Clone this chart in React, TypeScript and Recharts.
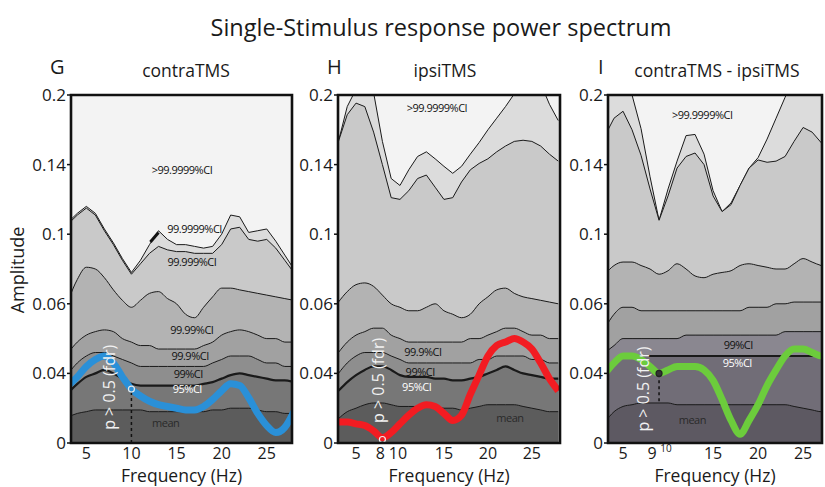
import React from 'react';
import { ComposedChart, Area, Line, XAxis, YAxis, ReferenceArea, ReferenceLine, ReferenceDot, Label } from 'recharts';

// ---------------- data ----------------
const FREQ = [3, 4, 5, 6, 7, 8, 9, 10, 11, 12, 13, 14, 15, 16, 17, 18, 19, 20, 21, 22, 23, 24, 25, 26, 27, 28];
const Y_TICK_VALUES = [0, 0.04, 0.06, 0.1, 0.14, 0.2];
const Y_TICK_LABELS = ['0', '0.04', '0.06', '0.1', '0.14', '0.2'];
const G_X_TICKS = [5, 10, 15, 20, 25];
const H_X_TICKS = [5, 8, 10, 15, 20, 25];
const I_X_TICKS = [5, 9, 10, 15, 20, 25];
const CI_LABELS = ['>99.9999%CI', '99.9999%CI', '99.999%CI', '99.99%CI', '99.9%CI', '99%CI', '95%CI', 'mean'];
const P_TEXT = 'p > 0.5 (fdr)';

// Panel G (contraTMS)
const G_CI999999 = [0.107, 0.112, 0.116, 0.112, 0.103, 0.095, 0.086, 0.078, 0.085, 0.094, 0.102, 0.097, 0.094, 0.094, 0.093, 0.092, 0.093, 0.100, 0.111, 0.110, 0.101, 0.102, 0.103, 0.096, 0.088, 0.080];
const G_CI99999 = [0.106, 0.111, 0.115, 0.111, 0.102, 0.094, 0.085, 0.077, 0.083, 0.089, 0.093, 0.091, 0.090, 0.090, 0.089, 0.089, 0.089, 0.094, 0.103, 0.104, 0.097, 0.096, 0.097, 0.092, 0.085, 0.078];
const G_CI9999 = [0.062, 0.074, 0.081, 0.080, 0.075, 0.068, 0.062, 0.059, 0.062, 0.066, 0.067, 0.063, 0.060, 0.057, 0.056, 0.059, 0.064, 0.069, 0.069, 0.068, 0.067, 0.066, 0.065, 0.064, 0.063, 0.062];
const G_CI999 = [0.046, 0.049, 0.051, 0.052, 0.0525, 0.052, 0.050, 0.049, 0.048, 0.048, 0.047, 0.047, 0.047, 0.047, 0.047, 0.048, 0.049, 0.051, 0.052, 0.0525, 0.052, 0.051, 0.050, 0.050, 0.049, 0.049];
const G_CI99 = [0.040, 0.043, 0.045, 0.046, 0.046, 0.045, 0.044, 0.043, 0.042, 0.042, 0.042, 0.042, 0.042, 0.042, 0.042, 0.042, 0.043, 0.044, 0.045, 0.045, 0.045, 0.044, 0.043, 0.043, 0.042, 0.042];
const G_CI95 = [0.029, 0.034, 0.038, 0.040, 0.041, 0.040, 0.037, 0.034, 0.033, 0.033, 0.033, 0.033, 0.033, 0.033, 0.033, 0.034, 0.035, 0.037, 0.039, 0.040, 0.039, 0.038, 0.037, 0.036, 0.036, 0.035];
const G_MEAN = [0.015, 0.017, 0.018, 0.019, 0.019, 0.019, 0.019, 0.019, 0.019, 0.018, 0.018, 0.018, 0.018, 0.018, 0.018, 0.018, 0.019, 0.019, 0.020, 0.020, 0.020, 0.019, 0.018, 0.018, 0.017, 0.017];
const G_SIGNAL = [0.033, 0.038, 0.042, 0.044, 0.045, 0.043, 0.038, 0.031, 0.027, 0.024, 0.022, 0.021, 0.020, 0.019, 0.019, 0.021, 0.025, 0.030, 0.034, 0.033, 0.026, 0.017, 0.010, 0.006, 0.009, 0.018];
const G_MARK = { f: 10, amp: 0.031 };

// Panel H (ipsiTMS)
const H_CI999999 = [0.160, 0.190, 0.205, 0.210, 0.202, 0.160, 0.132, 0.128, 0.137, 0.147, 0.151, 0.145, 0.139, 0.135, 0.139, 0.149, 0.159, 0.170, 0.180, 0.190, 0.201, 0.210, 0.215, 0.210, 0.192, 0.178];
const H_CI99999 = [0.160, 0.183, 0.193, 0.190, 0.168, 0.140, 0.121, 0.120, 0.125, 0.132, 0.134, 0.127, 0.120, 0.121, 0.130, 0.137, 0.141, 0.145, 0.151, 0.156, 0.160, 0.161, 0.160, 0.156, 0.149, 0.143];
const H_CI9999 = [0.061, 0.067, 0.071, 0.072, 0.070, 0.065, 0.060, 0.059, 0.058, 0.058, 0.059, 0.060, 0.058, 0.057, 0.056, 0.057, 0.060, 0.064, 0.068, 0.069, 0.066, 0.064, 0.063, 0.062, 0.061, 0.060];
const H_CI999 = [0.046, 0.049, 0.051, 0.052, 0.053, 0.053, 0.051, 0.050, 0.049, 0.049, 0.049, 0.049, 0.049, 0.049, 0.049, 0.050, 0.050, 0.051, 0.052, 0.053, 0.053, 0.052, 0.051, 0.051, 0.050, 0.050];
const H_CI99 = [0.040, 0.043, 0.045, 0.046, 0.046, 0.046, 0.045, 0.044, 0.043, 0.043, 0.043, 0.043, 0.043, 0.043, 0.043, 0.043, 0.044, 0.044, 0.045, 0.045, 0.045, 0.045, 0.044, 0.044, 0.043, 0.043];
const H_CI95 = [0.030, 0.035, 0.039, 0.041, 0.042, 0.042, 0.041, 0.039, 0.038, 0.038, 0.038, 0.037, 0.037, 0.036, 0.036, 0.037, 0.038, 0.040, 0.041, 0.042, 0.041, 0.040, 0.039, 0.038, 0.037, 0.037];
const H_MEAN = [0.014, 0.018, 0.020, 0.022, 0.023, 0.023, 0.022, 0.021, 0.021, 0.021, 0.021, 0.021, 0.020, 0.020, 0.019, 0.020, 0.021, 0.022, 0.022, 0.022, 0.022, 0.021, 0.020, 0.019, 0.018, 0.018];
const H_SIGNAL = [0.012, 0.012, 0.011, 0.010, 0.007, 0.003, 0.006, 0.011, 0.016, 0.020, 0.022, 0.021, 0.017, 0.013, 0.016, 0.028, 0.039, 0.045, 0.048, 0.049, 0.050, 0.049, 0.047, 0.043, 0.037, 0.030];
const H_MARK = { f: 8, amp: 0.002 };

// Panel I (contraTMS - ipsiTMS)
const I_CI999999 = [0.210, 0.220, 0.220, 0.200, 0.171, 0.133, 0.108, 0.126, 0.143, 0.165, 0.166, 0.149, 0.125, 0.113, 0.118, 0.128, 0.138, 0.146, 0.162, 0.180, 0.198, 0.215, 0.225, 0.215, 0.200, 0.185];
const I_CI99999 = [0.165, 0.180, 0.186, 0.170, 0.148, 0.126, 0.108, 0.122, 0.138, 0.147, 0.150, 0.140, 0.122, 0.113, 0.117, 0.128, 0.138, 0.144, 0.142, 0.143, 0.147, 0.160, 0.172, 0.168, 0.159, 0.150];
const I_CI9999 = [0.077, 0.082, 0.084, 0.084, 0.082, 0.080, 0.077, 0.079, 0.083, 0.080, 0.076, 0.075, 0.077, 0.078, 0.079, 0.082, 0.083, 0.082, 0.081, 0.080, 0.080, 0.083, 0.086, 0.084, 0.082, 0.081];
const I_CI999 = [0.053, 0.057, 0.059, 0.059, 0.058, 0.058, 0.058, 0.058, 0.058, 0.058, 0.058, 0.058, 0.058, 0.058, 0.058, 0.058, 0.059, 0.059, 0.059, 0.060, 0.060, 0.061, 0.061, 0.061, 0.061, 0.061];
const I_CI99 = [0.046, 0.048, 0.050, 0.050, 0.050, 0.050, 0.050, 0.050, 0.050, 0.051, 0.051, 0.051, 0.051, 0.051, 0.051, 0.051, 0.051, 0.051, 0.051, 0.051, 0.052, 0.052, 0.052, 0.052, 0.052, 0.052];
const I_CI95 = [0.040, 0.043, 0.045, 0.045, 0.045, 0.045, 0.045, 0.045, 0.045, 0.045, 0.045, 0.045, 0.045, 0.045, 0.045, 0.045, 0.045, 0.045, 0.045, 0.045, 0.045, 0.045, 0.045, 0.045, 0.045, 0.045];
const I_MEAN = [0.012, 0.018, 0.021, 0.022, 0.023, 0.023, 0.023, 0.023, 0.022, 0.022, 0.022, 0.022, 0.022, 0.022, 0.022, 0.022, 0.022, 0.022, 0.022, 0.022, 0.022, 0.021, 0.020, 0.019, 0.018, 0.018];
const I_SIGNAL = [0.040, 0.043, 0.045, 0.045, 0.044, 0.042, 0.040, 0.041, 0.042, 0.042, 0.042, 0.041, 0.036, 0.025, 0.013, 0.005, 0.013, 0.022, 0.033, 0.041, 0.045, 0.047, 0.047, 0.046, 0.045, 0.045];
const I_MARK = { f: 9, amp: 0.040 };

// ---------------- helpers ----------------
// piecewise-linear mapping of amplitude onto the evenly spaced tick positions of the axis
const toIdx = (v: number) => {
  const T = Y_TICK_VALUES;
  let i = 0;
  while (i < T.length - 2 && v > T[i + 1]) i++;
  return i + (v - T[i]) / (T[i + 1] - T[i]);
};
const Y_IDX = Y_TICK_VALUES.map((_, i) => i);

const BANDS = [
  { key: 'c6', fill: '#dcdcdc', sw: 1, type: 'linear' },
  { key: 'c5', fill: '#c9c9c9', sw: 1, type: 'linear' },
  { key: 'c4', fill: '#b3b3b3', sw: 1, type: 'monotone' },
  { key: 'c3', fill: '#a1a1a1', sw: 1, type: 'monotone' },
  { key: 'c2', fill: '#8e8e8e', sw: 1, type: 'monotone' },
  { key: 'c1', fill: '#777777', sw: 2.2, type: 'monotone' },
  { key: 'c0', fill: '#5c5c5c', sw: 1, type: 'monotone' },
];

const TEXT = '#1a1a1a';
const FONT = '"Open Sans", "Noto Sans", sans-serif';

const makeTick = (adj: any) => (props: any) => {
  const { x, y, payload } = props;
  const a = adj[payload.value] || {};
  return (
    <text x={x + (a.dx || 0)} y={y + (a.dy || 0)} dy="0.71em" textAnchor="middle" fontSize={a.size || 16} fill={TEXT} fontFamily={FONT}>
      {payload.value}
    </text>
  );
};

function Panel({ cfg }: { cfg: any }) {
  const s = cfg.series;
  const rows = FREQ.map((f, k) => ({
    f,
    c6: toIdx(s.c6[k]), c5: toIdx(s.c5[k]), c4: toIdx(s.c4[k]), c3: toIdx(s.c3[k]),
    c2: toIdx(s.c2[k]), c1: toIdx(s.c1[k]), c0: toIdx(s.c0[k]), sig: toIdx(s.sig[k]),
  }));
  const [d0, d1] = cfg.domain;
  const tickLine = { stroke: '#111', strokeWidth: 1.5 };
  return (
    <div style={{ position: 'absolute', left: cfg.plotLeft - 52, top: 60 }}>
      <ComposedChart width={cfg.plotWidth + 54} height={427} data={rows} margin={{ top: 35, right: 2, bottom: 0, left: 0 }}>
        <ReferenceArea x1={d0} x2={d1} y1={0} y2={5} fill="#f3f3f3" fillOpacity={1} stroke="none" zIndex={-200} />
        {BANDS.map((b) => (
          <Area key={b.key} type={b.type as any} dataKey={b.key} stroke="#1a1a1a" strokeWidth={b.sw}
            fill={cfg.fills?.[b.key] || b.fill} fillOpacity={1} dot={false} activeDot={false} isAnimationActive={false} />
        ))}
        <Line type="monotone" dataKey="sig" stroke={cfg.color} strokeWidth={7} dot={false} activeDot={false} isAnimationActive={false} />
        {cfg.dash && (
          <ReferenceLine segment={[{ x: cfg.mark.f, y: toIdx(cfg.dash[0]) }, { x: cfg.mark.f, y: toIdx(cfg.dash[1]) }]}
            stroke="#111" strokeWidth={1.5} strokeDasharray="3 3" zIndex={1400} />
        )}
        {cfg.pointer && (
          <ReferenceLine segment={cfg.pointer.map((p: any) => ({ x: p.f, y: toIdx(p.a) }))} stroke="#111" strokeWidth={3} zIndex={1400} />
        )}
        <ReferenceDot x={cfg.mark.f} y={toIdx(cfg.mark.amp)} r={3} fill={cfg.markFill} stroke={cfg.markStroke} strokeWidth={1.2} zIndex={1450} />
        {cfg.labels.map((l: any, i: number) => (
          <ReferenceDot key={'l' + i} x={l.f} y={toIdx(l.a)} r={0} fill="none" stroke="none" zIndex={1600}
            label={{ value: l.t, position: 'center', fontSize: 11, fill: l.c || '#111', letterSpacing: -0.5, fontFamily: FONT }} />
        ))}
        <ReferenceDot x={cfg.pText.f} y={toIdx(cfg.pText.a)} r={0} fill="none" stroke="none" zIndex={1600}
          label={{ value: P_TEXT, position: 'center', angle: -90, fontSize: 16, fill: '#f2f2f2', fontFamily: FONT }} />
        <XAxis xAxisId="top" orientation="top" dataKey="f" type="number" domain={cfg.domain} allowDataOverflow ticks={cfg.ticks} interval={0}
          mirror height={0} tick={false} axisLine={false} tickLine={tickLine} tickSize={4} />
        <XAxis xAxisId="bot" orientation="bottom" dataKey="f" type="number" domain={cfg.domain} allowDataOverflow ticks={cfg.ticks} interval={0}
          mirror height={0} tick={false} axisLine={false} tickLine={tickLine} tickSize={4} />
        <XAxis dataKey="f" type="number" domain={cfg.domain} allowDataOverflow ticks={cfg.ticks} interval={0} height={44}
          axisLine={false} tickLine={false} tickSize={4} tickMargin={1} tick={makeTick(cfg.tickAdj)}>
          <Label value="Frequency (Hz)" position="insideBottom" offset={5} fontSize={17.5} fill={TEXT} fontFamily={FONT} />
        </XAxis>
        <YAxis yAxisId="right" orientation="right" type="number" domain={[0, 5]} allowDataOverflow ticks={Y_IDX} interval={0}
          mirror width={0} tick={false} axisLine={false} tickLine={tickLine} tickSize={4} />
        <YAxis type="number" domain={[0, 5]} allowDataOverflow ticks={Y_IDX} interval={0} width={52} axisLine={false}
          tickLine={tickLine} tickSize={4} tickMargin={1} tickFormatter={(v: number) => Y_TICK_LABELS[v]}
          tick={{ fontSize: 17, fill: TEXT, fontFamily: FONT }} />
        <ReferenceArea x1={d0} x2={d1} y1={0} y2={5} fill="none" stroke="#111" strokeWidth={2.6} zIndex={1500} />
      </ComposedChart>
    </div>
  );
}

const PANELS = [
  {
    plotLeft: 71, plotWidth: 221, domain: [3.3, 27.8], ticks: G_X_TICKS, tickAdj: {},
    color: '#2a90d8',
    series: { c6: G_CI999999, c5: G_CI99999, c4: G_CI9999, c3: G_CI999, c2: G_CI99, c1: G_CI95, c0: G_MEAN, sig: G_SIGNAL },
    mark: G_MARK, markFill: 'none', markStroke: '#e6e6e6', dash: [0, G_MARK.amp],
    pointer: [{ f: 12.1, a: 0.0955 }, { f: 13.0, a: 0.101 }],
    pText: { f: 7.6, a: 0.032 },
    labels: [
      { t: CI_LABELS[0], f: 15.6, a: 0.137 },
      { t: CI_LABELS[1], f: 17.0, a: 0.103 },
      { t: CI_LABELS[2], f: 16.7, a: 0.084 },
      { t: CI_LABELS[3], f: 16.7, a: 0.0525 },
      { t: CI_LABELS[4], f: 16.5, a: 0.045 },
      { t: CI_LABELS[5], f: 16.3, a: 0.0397 },
      { t: CI_LABELS[6], f: 16.2, a: 0.031, c: '#ffffff' },
      { t: CI_LABELS[7], f: 13.8, a: 0.0115, c: '#2a2a2a' },
    ],
  },
  {
    plotLeft: 338, plotWidth: 222, domain: [2.95, 28.2], ticks: H_X_TICKS, tickAdj: { 8: { dx: -2 }, 10: { dx: -2 } },
    color: '#f21c22',
    series: { c6: H_CI999999, c5: H_CI99999, c4: H_CI9999, c3: H_CI999, c2: H_CI99, c1: H_CI95, c0: H_MEAN, sig: H_SIGNAL },
    mark: H_MARK, markFill: 'none', markStroke: '#f0f0f0', dash: null, pointer: null,
    pText: { f: 7.5, a: 0.036 },
    labels: [
      { t: CI_LABELS[0], f: 14.2, a: 0.189 },
      { t: CI_LABELS[4], f: 12.6, a: 0.046 },
      { t: CI_LABELS[5], f: 12.3, a: 0.0404 },
      { t: CI_LABELS[6], f: 11.9, a: 0.032, c: '#ffffff' },
      { t: CI_LABELS[7], f: 22.5, a: 0.0144, c: '#2a2a2a' },
    ],
  },
  {
    plotLeft: 608, plotWidth: 214, domain: [3.33, 27.1], ticks: I_X_TICKS, tickAdj: { 9: { dx: -7 }, 10: { dx: -2, dy: -3, size: 10 } },
    color: '#6ccc3c',
    fills: { c2: '#8a8790', c1: '#716d77', c0: '#5d5962' },
    series: { c6: I_CI999999, c5: I_CI99999, c4: I_CI9999, c3: I_CI999, c2: I_CI99, c1: I_CI95, c0: I_MEAN, sig: I_SIGNAL },
    mark: I_MARK, markFill: '#333', markStroke: '#222', dash: [0.024, I_MARK.amp], pointer: null,
    pText: { f: 7.2, a: 0.031 },
    labels: [
      { t: CI_LABELS[0], f: 13.8, a: 0.183 },
      { t: CI_LABELS[5], f: 17.8, a: 0.048 },
      { t: CI_LABELS[6], f: 17.7, a: 0.043, c: '#ffffff' },
      { t: CI_LABELS[7], f: 12.7, a: 0.013, c: '#2a2a2a' },
    ],
  },
];

export default function App() {
  return (
    <div style={{ position: 'absolute', left: 0, top: 0, width: 825, height: 487, background: '#ffffff', fontFamily: FONT, overflow: 'hidden' }}>
      {PANELS.map((p, i) => <Panel key={i} cfg={p} />)}
      <svg width={825} height={487} style={{ position: 'absolute', left: 0, top: 0, pointerEvents: 'none' }} fontFamily={FONT}>
        <text x={441} y={36} textAnchor="middle" fontSize={23.5} fill={TEXT}>Single-Stimulus response power spectrum</text>
        <text x={50} y={74} fontSize={20} fill={TEXT}>G</text>
        <text x={327} y={74} fontSize={20} fill={TEXT}>H</text>
        <text x={598} y={74} fontSize={20} fill={TEXT}>I</text>
        <text x={186} y={77} textAnchor="middle" fontSize={17.5} fill={TEXT}>contraTMS</text>
        <text x={445} y={77} textAnchor="middle" fontSize={17.5} fill={TEXT}>ipsiTMS</text>
        <text x={717} y={77} textAnchor="middle" fontSize={17.5} fill={TEXT}>contraTMS - ipsiTMS</text>
        <text x={24} y={270} textAnchor="middle" fontSize={18} fill={TEXT} transform="rotate(-90 24 270)">Amplitude</text>
      </svg>
    </div>
  );
}
